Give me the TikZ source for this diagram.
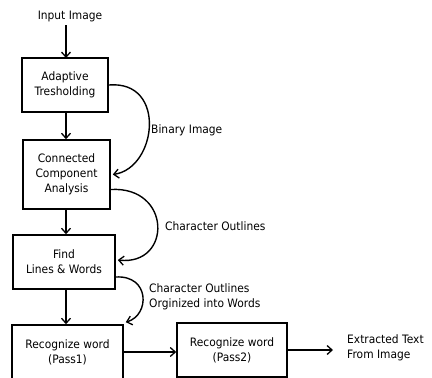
\documentclass[tikz,border=0pt]{standalone}
\usepackage{fontspec}
\setmainfont{DejaVu Sans}[FakeStretch=0.92]
\usetikzlibrary{arrows.meta,calc}
\begin{document}
\begin{tikzpicture}[x=1pt,y=-1pt,
  every node/.style={font=\fontsize{11.6}{15}\selectfont, align=center, inner sep=0pt},
  box/.style={draw, line width=1.6pt, minimum width=#1},
  arr/.style={line width=1.4pt, -{Straight Barb[length=5pt,width=9pt,line width=1.3pt]}},
  lbl/.style={align=left, anchor=west}]
\useasboundingbox (0,0) rectangle (432,378);
\node (in) at (70,16) {Input Image};
\node[box=86pt, minimum height=54pt] (b1) at (65,85) {Adaptive\\Tresholding};
\node[box=87pt, minimum height=69pt] (b2) at (66.5,174.5) {Connected\\Component\\Analysis};
\node[box=102pt, minimum height=54pt] (b3) at (64,262) {Find\\Lines \& Words};
\node[box=111pt, minimum height=54pt] (b4) at (67.5,352) {Recognize word\\(Pass1)};
\node[box=110pt, minimum height=54pt] (b5) at (232,350) {Recognize word\\(Pass2)};
\node[lbl] (out) at (347,348) {Extracted Text\\From Image};
\node[lbl] (l1) at (151,130) {Binary Image};
\node[lbl] (l2) at (165,226) {Character Outlines};
\node[lbl] (l3) at (149,297) {Character Outlines\\Orginized into Words};
\draw[arr] (66,25) -- (66,58);
\draw[arr] (b1.south -| 66,0) -- (b2.north -| 66,0);
\draw[arr] (b2.south -| 66,0) -- (b3.north -| 66,0);
\draw[arr] (b3.south -| 66,0) -- (b4.north -| 66,0);
\draw[arr] (b4.east |- 0,352) -- (b5.west |- 0,352);
\draw[arr] (b5.east |- 0,350) -- ($(out.west)+(-14,2)$);
\draw[arr] (b1.east) .. controls (167,80) and (157,168) .. ($(b2.east)+(2,0)$);
\draw[arr] ($(b2.east)+(0,15)$) .. controls (172,186) and (172,266) .. ($(b3.east)+(2,-2)$);
\draw[arr] ($(b3.east)+(0,15)$) .. controls (150,275) and (150,315) .. ($(b4.north east)+(2,-2)$);
\end{tikzpicture}
\end{document}
